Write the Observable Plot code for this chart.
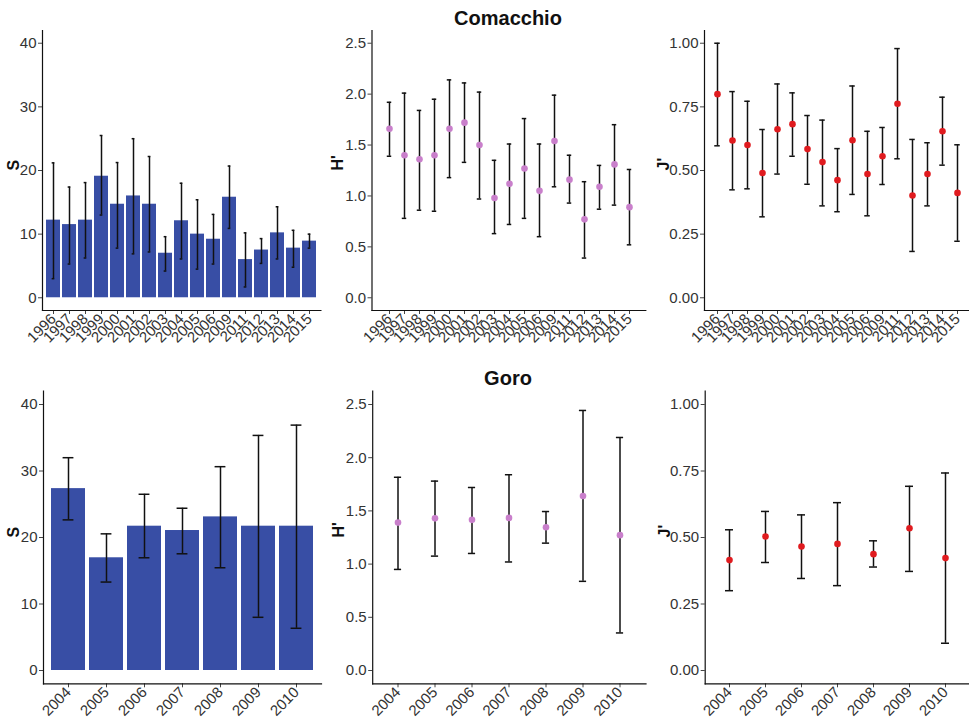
<!DOCTYPE html>
<html>
<head>
<meta charset="utf-8">
<script src="https://cdn.jsdelivr.net/npm/d3@7"></script>
<script src="https://cdn.jsdelivr.net/npm/@observablehq/plot@0.6"></script>
<style>
  body { margin: 0; background: #fff; }
  #wrap { position: relative; width: 969px; height: 720px; overflow: hidden; font-family: "Liberation Sans", Arial, sans-serif; }
  .panel { position: absolute; }
  .title { position: absolute; width: 300px; text-align: center; font-weight: bold; font-size: 20px; line-height: 20px; color: #111; }
</style>
</head>
<body>
<div id="wrap">
  <div class="title" style="left:358px; top:8px;">Comacchio</div>
  <div class="title" style="left:358px; top:368px;">Goro</div>
</div>
<script>
// ---------- data ----------
const yearsComacchio = ["1996","1997","1998","1999","2000","2001","2002","2003","2004","2005","2006","2009","2011","2012","2013","2014","2015"];
const yearsGoro = ["2004","2005","2006","2007","2008","2009","2010"];

// Comacchio S (species richness)
const sComMean = [12.2, 11.5, 12.2, 19.1, 14.7, 16.0, 14.7, 7.0, 12.1, 10.0, 9.2, 15.8, 6.0, 7.5, 10.2, 7.8, 8.9];
const sComLow  = [3.0, 5.3, 6.25, 13.0, 7.8, 6.9, 7.2, 4.2, 6.1, 4.5, 5.3, 10.9, 1.7, 5.4, 6.1, 4.8, 7.8];
const sComHigh = [21.2, 17.4, 18.1, 25.5, 21.25, 25.0, 22.2, 9.6, 18.0, 15.4, 13.1, 20.7, 10.2, 9.3, 14.3, 10.6, 10.0];

// Comacchio H'
const hComMean = [1.66, 1.40, 1.36, 1.40, 1.66, 1.72, 1.50, 0.98, 1.12, 1.27, 1.05, 1.54, 1.16, 0.77, 1.09, 1.31, 0.89];
const hComLow  = [1.39, 0.78, 0.86, 0.85, 1.18, 1.33, 0.97, 0.63, 0.72, 0.78, 0.60, 1.09, 0.93, 0.39, 0.87, 0.91, 0.52];
const hComHigh = [1.92, 2.01, 1.84, 1.95, 2.14, 2.11, 2.02, 1.35, 1.51, 1.76, 1.51, 1.99, 1.40, 1.14, 1.30, 1.70, 1.26];

// Comacchio J'
const jComMean = [0.80, 0.618, 0.60, 0.49, 0.662, 0.682, 0.584, 0.533, 0.462, 0.619, 0.486, 0.556, 0.762, 0.402, 0.486, 0.654, 0.412];
const jComLow  = [0.597, 0.424, 0.428, 0.318, 0.486, 0.556, 0.446, 0.361, 0.338, 0.406, 0.322, 0.445, 0.546, 0.182, 0.361, 0.521, 0.222];
const jComHigh = [1.00, 0.81, 0.772, 0.661, 0.84, 0.805, 0.716, 0.698, 0.586, 0.832, 0.654, 0.669, 0.979, 0.622, 0.609, 0.788, 0.601];

// Goro S
const sGorMean = [27.35, 16.95, 21.7, 21.05, 23.1, 21.7, 21.7];
const sGorLow  = [22.65, 13.3, 16.95, 17.55, 15.45, 8.0, 6.35];
const sGorHigh = [32.0, 20.55, 26.5, 24.4, 30.65, 35.35, 36.9];

// Goro H'
const hGorMean = [1.39, 1.43, 1.416, 1.434, 1.347, 1.64, 1.272];
const hGorLow  = [0.95, 1.075, 1.10, 1.02, 1.197, 0.838, 0.353];
const hGorHigh = [1.816, 1.78, 1.72, 1.84, 1.494, 2.444, 2.19];

// Goro J'
const jGorMean = [0.415, 0.504, 0.466, 0.476, 0.4375, 0.535, 0.4225];
const jGorLow  = [0.30, 0.406, 0.346, 0.319, 0.389, 0.3725, 0.1025];
const jGorHigh = [0.529, 0.598, 0.585, 0.631, 0.4875, 0.6925, 0.7425];

// axis ticks
const sTicks = [0, 10, 20, 30, 40];
const hTicks = [0, 0.5, 1.0, 1.5, 2.0, 2.5];
const jTicks = [0, 0.25, 0.5, 0.75, 1.0];

// ---------- drawing ----------
const FONT = "'Liberation Sans', Arial, sans-serif";
const BAR = "#384ea5";
const PINK = "#c97fcb";
const RED = "#e01b1f";

function panel(cfg) {
  const data = cfg.years.map((y, i) => ({year: y, mean: cfg.mean[i], low: cfg.low[i], high: cfg.high[i]}));
  const n = cfg.years.length;
  const innerW = cfg.width - cfg.ml - cfg.mr;
  const step = innerW / (n + 0.2);
  const bw = 0.9 * step;
  const capInset = (bw - cfg.cap * step) / 2;
  const marks = [];
  if (cfg.kind === "bar") {
    marks.push(Plot.barY(data, {x: "year", y1: 0, y2: "mean", fill: BAR}));
  }
  marks.push(Plot.ruleX(data, {x: "year", y1: "low", y2: "high", stroke: "#111", strokeWidth: 1.5}));
  marks.push(Plot.tickY(data, {x: "year", y: "low", stroke: "#111", strokeWidth: 1.5, insetLeft: capInset, insetRight: capInset}));
  marks.push(Plot.tickY(data, {x: "year", y: "high", stroke: "#111", strokeWidth: 1.5, insetLeft: capInset, insetRight: capInset}));
  if (cfg.kind === "dot") {
    marks.push(Plot.dot(data, {x: "year", y: "mean", r: 3.3, fill: cfg.color, stroke: "none"}));
  }
  marks.push(Plot.axisY({ticks: cfg.ticks, tickFormat: cfg.fmt, tickSize: 4, tickPadding: 2, stroke: "#444", fill: "#333", fontSize: 15, label: null}));
  marks.push(Plot.axisX({tickRotate: -45, tickSize: 4, tickPadding: 2, stroke: "#444", fill: "#333", fontSize: 15, label: null}));
  marks.push(Plot.frame({anchor: "left", stroke: "#111", strokeWidth: 1.2}));
  marks.push(Plot.frame({anchor: "bottom", stroke: "#111", strokeWidth: 1.2}));
  marks.push(Plot.text([cfg.label], {text: d => d, frameAnchor: "left", rotate: -90, lineAnchor: "top", dx: -cfg.labelOffset, fontSize: 16, fontWeight: "bold", fill: "#111"}));
  const svg = Plot.plot({
    width: cfg.width,
    height: cfg.height,
    marginLeft: cfg.ml, marginRight: cfg.mr, marginTop: cfg.mt, marginBottom: cfg.mb,
    style: {fontFamily: FONT, background: "transparent", overflow: "visible"},
    x: {type: "band", domain: cfg.years, paddingInner: 0.1, paddingOuter: 0.15},
    y: {domain: cfg.yDomain},
    marks
  });
  svg.classList.add("panel");
  svg.style.left = cfg.left + "px";
  svg.style.top = cfg.top + "px";
  svg.style.position = "absolute";
  document.getElementById("wrap").appendChild(svg);
}

const topRow = {top: 0, height: 360, mt: 30, mb: 50};
const botRow = {top: 360, height: 360, mt: 30.7, mb: 36.7};

panel({...topRow, left: 0, width: 325, ml: 42, mr: 4.6, kind: "bar", years: yearsComacchio,
  mean: sComMean, low: sComLow, high: sComHigh, yDomain: [-2, 42], ticks: sTicks, fmt: d3.format("d"),
  label: "S", labelOffset: 35, cap: 0.2});
panel({...topRow, left: 325, width: 323, ml: 46.5, mr: 2.7, kind: "dot", color: PINK, years: yearsComacchio,
  mean: hComMean, low: hComLow, high: hComHigh, yDomain: [-0.125, 2.625], ticks: hTicks, fmt: d3.format(".1f"),
  label: "H'", labelOffset: 40, cap: 0.3});
panel({...topRow, left: 648, width: 322, ml: 56, mr: 0, kind: "dot", color: RED, years: yearsComacchio,
  mean: jComMean, low: jComLow, high: jComHigh, yDomain: [-0.05, 1.05], ticks: jTicks, fmt: d3.format(".2f"),
  label: "J'", labelOffset: 47, cap: 0.35});

panel({...botRow, left: 0, width: 325, ml: 43, mr: 4, kind: "bar", years: yearsGoro,
  mean: sGorMean, low: sGorLow, high: sGorHigh, yDomain: [-2, 42], ticks: sTicks, fmt: d3.format("d"),
  label: "S", labelOffset: 36, cap: 0.3});
panel({...botRow, left: 325, width: 323, ml: 47.2, mr: 2.5, kind: "dot", color: PINK, years: yearsGoro,
  mean: hGorMean, low: hGorLow, high: hGorHigh, yDomain: [-0.125, 2.625], ticks: hTicks, fmt: d3.format(".1f"),
  label: "H'", labelOffset: 40, cap: 0.22});
panel({...botRow, left: 648, width: 322, ml: 56.7, mr: 0, kind: "dot", color: RED, years: yearsGoro,
  mean: jGorMean, low: jGorLow, high: jGorHigh, yDomain: [-0.05, 1.05], ticks: jTicks, fmt: d3.format(".2f"),
  label: "J'", labelOffset: 47, cap: 0.25});
</script>
</body>
</html>
